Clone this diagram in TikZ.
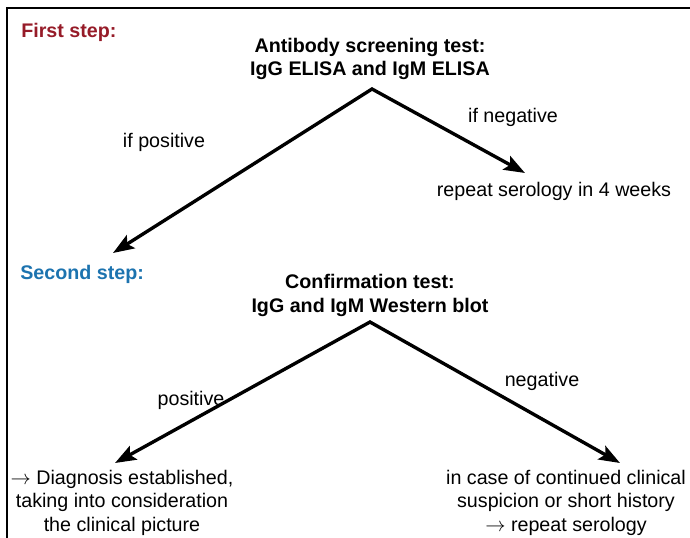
\documentclass[tikz,border=0pt]{standalone}
\usepackage{fontspec}
\setmainfont{Liberation Sans}
\usetikzlibrary{arrows.meta}
\definecolor{steponered}{RGB}{150,27,40}
\definecolor{steptwoblue}{RGB}{28,115,175}

\begin{document}
\begin{tikzpicture}[
    x=0.025cm, y=-0.025cm,
    txt/.style={inner sep=0pt, align=center, anchor=base,
                font=\fontsize{14}{16.4}\selectfont},
    test/.style={txt, font=\fontsize{14}{16.4}\selectfont\bfseries},
    steplbl/.style={inner sep=0pt, anchor=base west,
                    font=\fontsize{14}{16.4}\selectfont\bfseries},
    arrow/.style={{Stealth[length=15pt,width=11pt,inset=3pt]}-{Stealth[length=15pt,width=11pt,inset=3pt]},
                  line width=2.4pt, line join=miter}
]
\useasboundingbox (0,0) rectangle (690,538);

% --- frame (cut at right and bottom) ---
\draw[line width=1.5pt] (7,538) -- (7,8) -- (690,8);

% --- First step ---
\node[steplbl, text=steponered] (first) at (21,38) {First step:};
% base anchor sits on the last line
\node[test] (screen) at (370,76) {Antibody screening test:\\IgG ELISA and IgM ELISA};

\coordinate (peak1) at (372,89);
\coordinate (tip1l) at (113,253);
\coordinate (tip1r) at (525,173);
\draw[arrow] (tip1l) -- (peak1) -- (tip1r);

\node[txt] (ifpos) at (164,148) {if positive};
\node[txt] (ifneg) at (513,123) {if negative};
\node[txt] (repeat4) at (554,196) {repeat serology in 4 weeks};

% --- Second step ---
\node[steplbl, text=steptwoblue] (second) at (20,279) {Second step:};
\node[test] (confirm) at (370,312) {Confirmation test:\\IgG and IgM Western blot};

\coordinate (peak2) at (370,322);
\coordinate (tip2l) at (115,463);
\coordinate (tip2r) at (620,463);
\draw[arrow] (tip2l) -- (peak2) -- (tip2r);

\node[txt] (pos) at (191,405) {positive};
\node[txt] (neg) at (542,386) {negative};

% outcomes
\node[txt] (diag) at (122,531)
    {$\rightarrow$ Diagnosis established,\\taking into consideration\\the clinical picture};
\node[txt] (suspect) at (566,531)
    {in case of continued clinical\\suspicion or short history\\$\rightarrow$ repeat serology};

\end{tikzpicture}
\end{document}
